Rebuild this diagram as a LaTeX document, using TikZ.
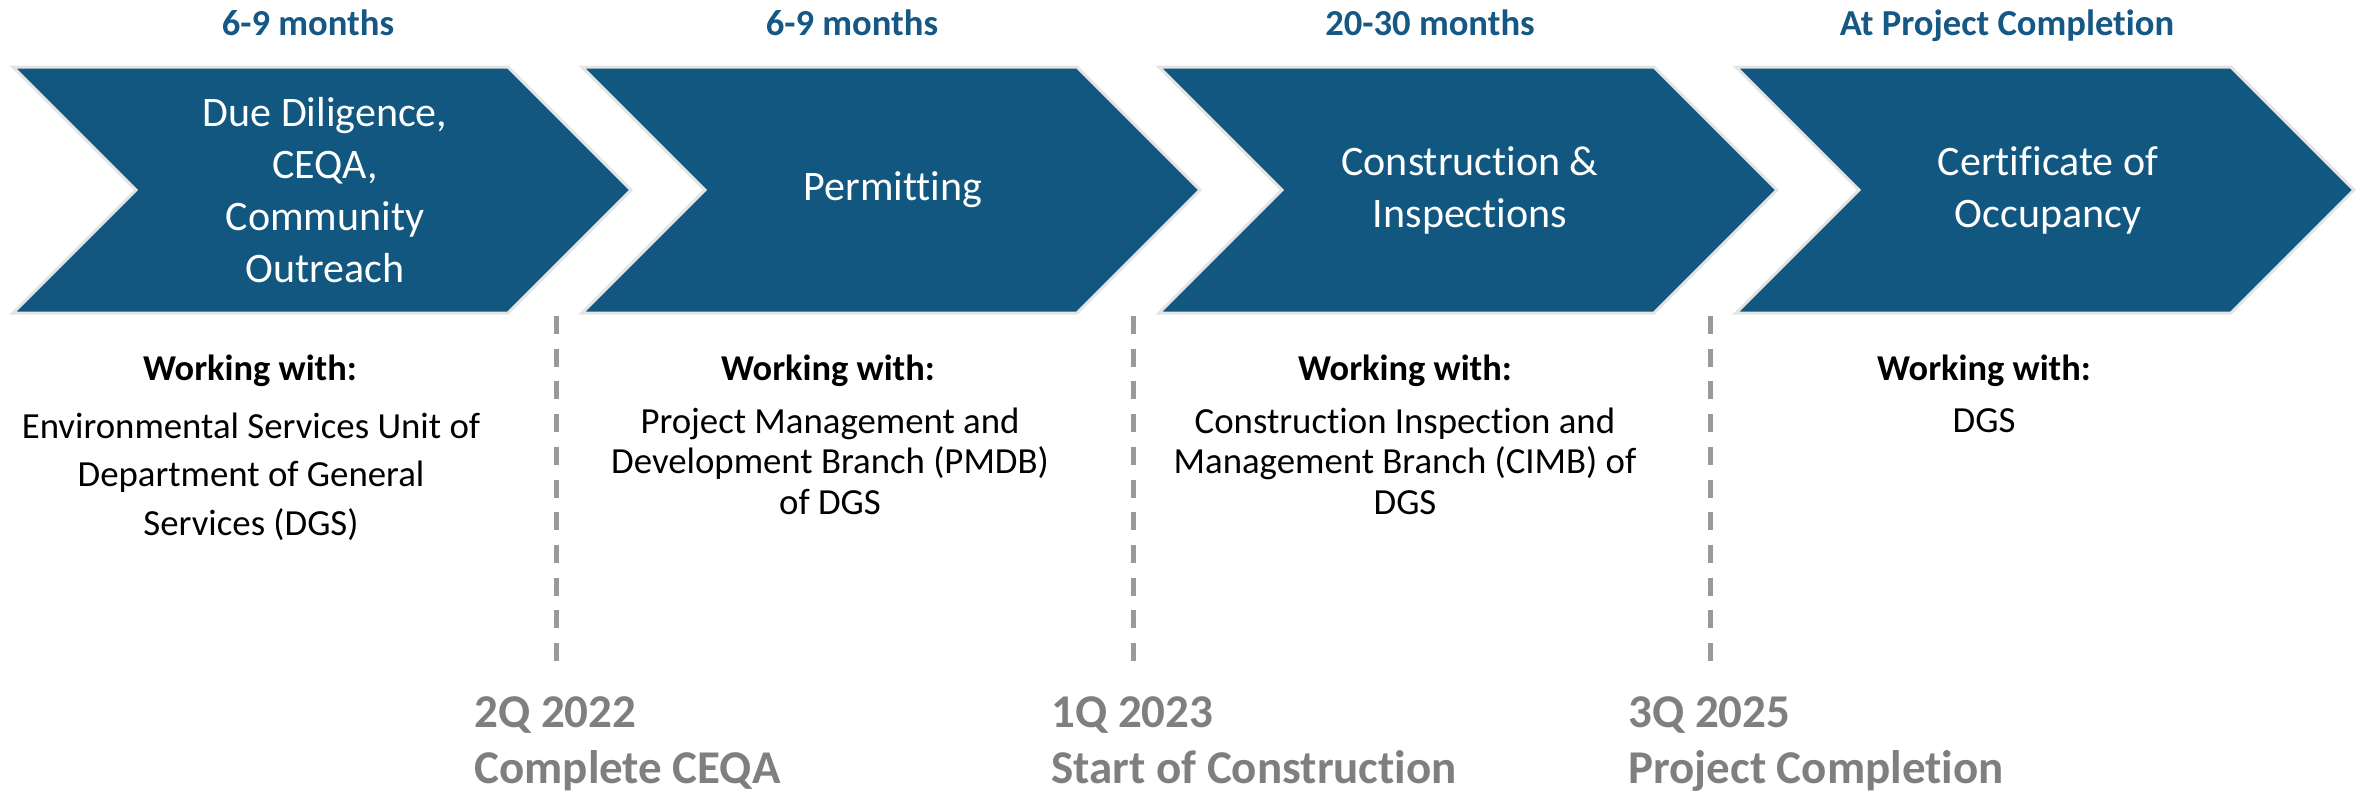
\documentclass[tikz,border=0pt]{standalone}
\usepackage{fontspec}
\setmainfont{Carlito}[Ligatures=NoCommon]
\definecolor{chevblue}{RGB}{17,87,128}
\definecolor{chevedge}{RGB}{228,228,228}
\definecolor{labelblue}{RGB}{22,88,133}
\definecolor{dategray}{RGB}{127,127,127}
\definecolor{dashgray}{RGB}{153,153,153}
\begin{document}
\begin{tikzpicture}[x=0.5pt,y=-0.5pt,
  chev/.style={fill=chevblue, draw=chevedge, line width=1.5pt, line join=miter},
  chevtext/.style={text=white, font=\fontsize{21}{26}\selectfont, align=center, inner sep=0pt},
  toplabel/.style={text=labelblue, font=\fontsize{18.3}{22}\selectfont\bfseries, inner sep=0pt, anchor=base},
  workhead/.style={font=\fontsize{18.2}{22}\selectfont\bfseries, inner sep=0pt, anchor=base},
  workbody/.style={font=\fontsize{18.4}{20.25}\selectfont, align=center, inner sep=0pt, anchor=base},
  workbodywide/.style={workbody, font=\fontsize{18.4}{24.25}\selectfont},
  datelabel/.style={text=dategray, font=\fontsize{23.5}{28}\selectfont\bfseries, align=left, inner sep=0pt, anchor=base west},
  milestone/.style={draw=dashgray, line width=2.5pt, dash pattern=on 9pt off 7.35pt}
]
\useasboundingbox (0,0) rectangle (2369,794);

% chevrons
\foreach \L in {13,582,1159,1736} {
  \draw[chev] (\L,67) -- ++(495,0) -- ++(123,123) -- ++(-123,123) -- ++(-495,0) -- ++(123,-123) -- cycle;
}

% chevron texts
\node[chevtext] (c1) at (325,190) {Due Diligence,\\CEQA,\\Community\\Outreach};
\node[chevtext] (c2) at (893,190) {Permitting};
\node[chevtext] (c3) at (1470,190) {Construction \&\\Inspections};
\node[chevtext] (c4) at (2048,190) {Certificate of\\Occupancy};

% durations
\node[toplabel] (d1) at (308,35) {6-9 months};
\node[toplabel] (d2) at (852,35) {6-9 months};
\node[toplabel] (d3) at (1430,35) {20-30 months};
\node[toplabel] (d4) at (2007,35) {At Project Completion};

% working with
\node[workhead] (w1) at (250,380) {Working with:};
\node[workhead] (w2) at (828,380) {Working with:};
\node[workhead] (w3) at (1405,380) {Working with:};
\node[workhead] (w4) at (1984,380) {Working with:};

% (base anchor = baseline of the last line)
\node[workbodywide] (b1) at (251,535) {Environmental Services Unit of\\Department of General\\Services (DGS)};
\node[workbody] (b2) at (830,514) {Project Management and\\Development Branch (PMDB)\\of DGS};
\node[workbody] (b3) at (1405,514) {Construction Inspection and\\Management Branch (CIMB) of\\DGS};
\node[workbody] (b4) at (1984,432) {DGS};

% milestones
\coordinate (m1t) at (556,316); \coordinate (m1b) at (556,662);
\coordinate (m2t) at (1133,316); \coordinate (m2b) at (1133,662);
\coordinate (m3t) at (1710,316); \coordinate (m3b) at (1710,662);
\draw[milestone] (m1t) -- (m1b);
\draw[milestone] (m2t) -- (m2b);
\draw[milestone] (m3t) -- (m3b);

\node[datelabel] (t1) at (474,783) {2Q 2022\\Complete CEQA};
\node[datelabel] (t2) at (1051,783) {1Q 2023\\Start of Construction};
\node[datelabel] (t3) at (1628,783) {3Q 2025\\Project Completion};
\end{tikzpicture}
\end{document}
